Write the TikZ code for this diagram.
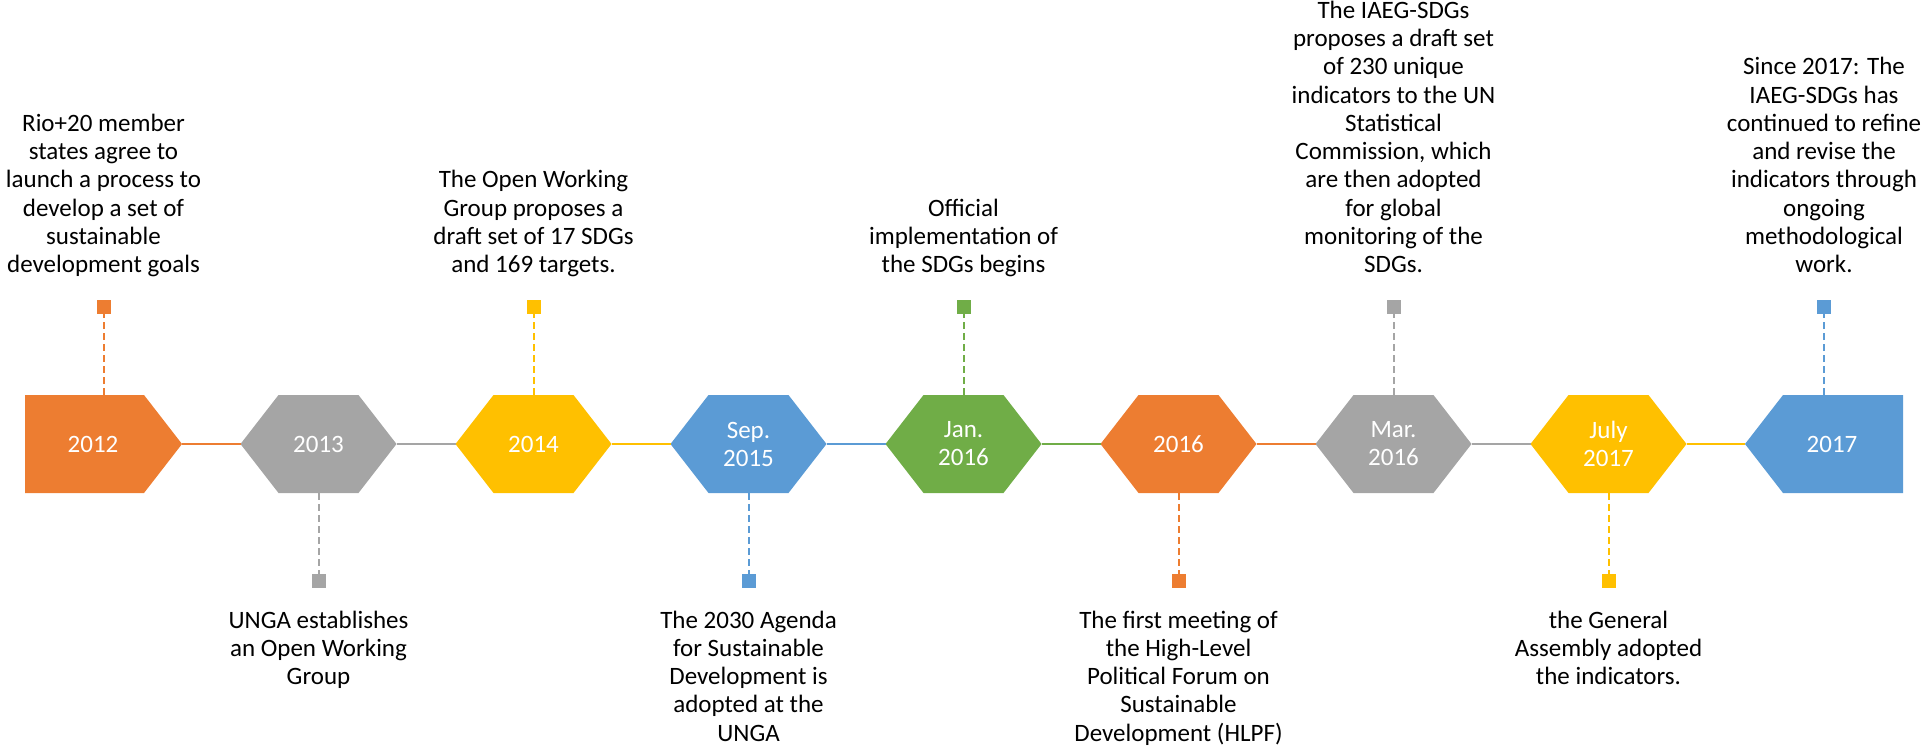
\documentclass[tikz,border=0pt]{standalone}
\usepackage{fontspec}
\setmainfont{Carlito}
\definecolor{corange}{HTML}{ED7D31}
\definecolor{cgray}{HTML}{A5A5A5}
\definecolor{cyellow}{HTML}{FFC000}
\definecolor{cblue}{HTML}{5B9BD5}
\definecolor{cgreen}{HTML}{70AD47}
\tikzset{
  desc/.style={inner sep=0pt, align=center, text=black, font=\fontsize{25}{28.3}\selectfont},
  lbl/.style={inner sep=0pt, align=center, text=white, font=\fontsize{25}{28}\selectfont},
  marker/.style={rectangle, inner sep=0pt, minimum size=14pt, draw=none},
  stem/.style={line width=2pt, dash pattern=on 7pt off 4pt},
  conn/.style={line width=2pt},
}
\begin{document}
\begin{tikzpicture}[x=1pt,y=-1pt]
\useasboundingbox (0,0) rectangle (1925,747);
% first (pentagon) shape
\fill[corange] (25,395) -- (144,395) -- (182,444) -- (144,493) -- (25,493) -- cycle;
\node[lbl] (h1) at (93,444) {2012};
\coordinate (h1R) at (182,444);
\coordinate (h1T) at (103.5,395);
% hexagons
\foreach \i/\col/\lab in {2/cgray/{2013},3/cyellow/{2014},4/cblue/{Sep.\\2015},5/cgreen/{Jan.\\2016},6/corange/{2016},7/cgray/{Mar.\\2016},8/cyellow/{July\\2017}}{
  \pgfmathsetmacro{\cx}{318.5+215*(\i-2)}
  \fill[\col] (\cx-78,444) -- (\cx-40,395) -- (\cx+40,395) -- (\cx+78,444) -- (\cx+40,493) -- (\cx-40,493) -- cycle;
  \node[lbl] (h\i) at (\cx,444) {\lab};
  \coordinate (h\i L) at (\cx-78,444);
  \coordinate (h\i R) at (\cx+78,444);
  \coordinate (h\i T) at (\cx,395);
  \coordinate (h\i B) at (\cx,493);
}
% last shape
\fill[cblue] (1745,444) -- (1783,395) -- (1903,395) -- (1903,493) -- (1783,493) -- cycle;
\node[lbl] (h9) at (1832,444) {2017};
\coordinate (h9L) at (1745,444);
\coordinate (h9T) at (1824,395);
% connectors
\draw[conn, corange] (h1R) -- (h2L);
\draw[conn, cgray] (h2R) -- (h3L);
\draw[conn, cyellow] (h3R) -- (h4L);
\draw[conn, cblue] (h4R) -- (h5L);
\draw[conn, cgreen] (h5R) -- (h6L);
\draw[conn, corange] (h6R) -- (h7L);
\draw[conn, cgray] (h7R) -- (h8L);
\draw[conn, cyellow] (h8R) -- (h9L);
% markers
\node[marker, fill=corange] (m1) at (103.5,307) {};
\node[marker, fill=cgray] (m2) at (318.5,581) {};
\node[marker, fill=cyellow] (m3) at (533.5,307) {};
\node[marker, fill=cblue] (m4) at (748.5,581) {};
\node[marker, fill=cgreen] (m5) at (963.5,307) {};
\node[marker, fill=corange] (m6) at (1178.5,581) {};
\node[marker, fill=cgray] (m7) at (1393.5,307) {};
\node[marker, fill=cyellow] (m8) at (1608.5,581) {};
\node[marker, fill=cblue] (m9) at (1824,307) {};
% stems
\draw[stem, corange] (h1T) -- (m1);
\draw[stem, cgray] (h2B) -- (m2);
\draw[stem, cyellow] (h3T) -- (m3);
\draw[stem, cblue] (h4B) -- (m4);
\draw[stem, cgreen] (h5T) -- (m5);
\draw[stem, corange] (h6B) -- (m6);
\draw[stem, cgray] (h7T) -- (m7);
\draw[stem, cyellow] (h8B) -- (m8);
\draw[stem, cblue] (h9T) -- (m9);
% descriptions
\node[desc, anchor=south] (t1) at (103.5,281.5) {\strut Rio+20 member\\states agree to\\launch a process to\\develop a set of\\sustainable\\development goals\strut};
\node[desc, anchor=north] (t2) at (318.5,608) {\strut UNGA establishes\\an Open Working\\Group\strut};
\node[desc, anchor=south] (t3) at (533.5,281.5) {\strut The Open Working\\Group proposes a\\draft set of 17 SDGs\\and 169 targets.\strut};
\node[desc, anchor=north] (t4) at (748.5,608) {\strut The 2030 Agenda\\for Sustainable\\Development is\\adopted at the\\UNGA\strut};
\node[desc, anchor=south] (t5) at (963.5,281.5) {\strut Official\\implementation of\\the SDGs begins\strut};
\node[desc, anchor=north] (t6) at (1178.5,608) {\strut The first meeting of\\the High-Level\\Political Forum on\\Sustainable\\Development (HLPF)\strut};
\node[desc, anchor=south] (t7) at (1393.5,281.5) {\strut The IAEG-SDGs\\proposes a draft set\\of 230 unique\\indicators to the UN\\Statistical\\Commission, which\\are then adopted\\for global\\monitoring of the\\SDGs.\strut};
\node[desc, anchor=north] (t8) at (1608.5,608) {\strut the General\\Assembly adopted\\the indicators.\strut};
\node[desc, anchor=south] (t9) at (1824,281.5) {\strut Since 2017: The\\IAEG-SDGs has\\continued to refine\\and revise the\\indicators through\\ongoing\\methodological\\work.\strut};
\end{tikzpicture}
\end{document}
